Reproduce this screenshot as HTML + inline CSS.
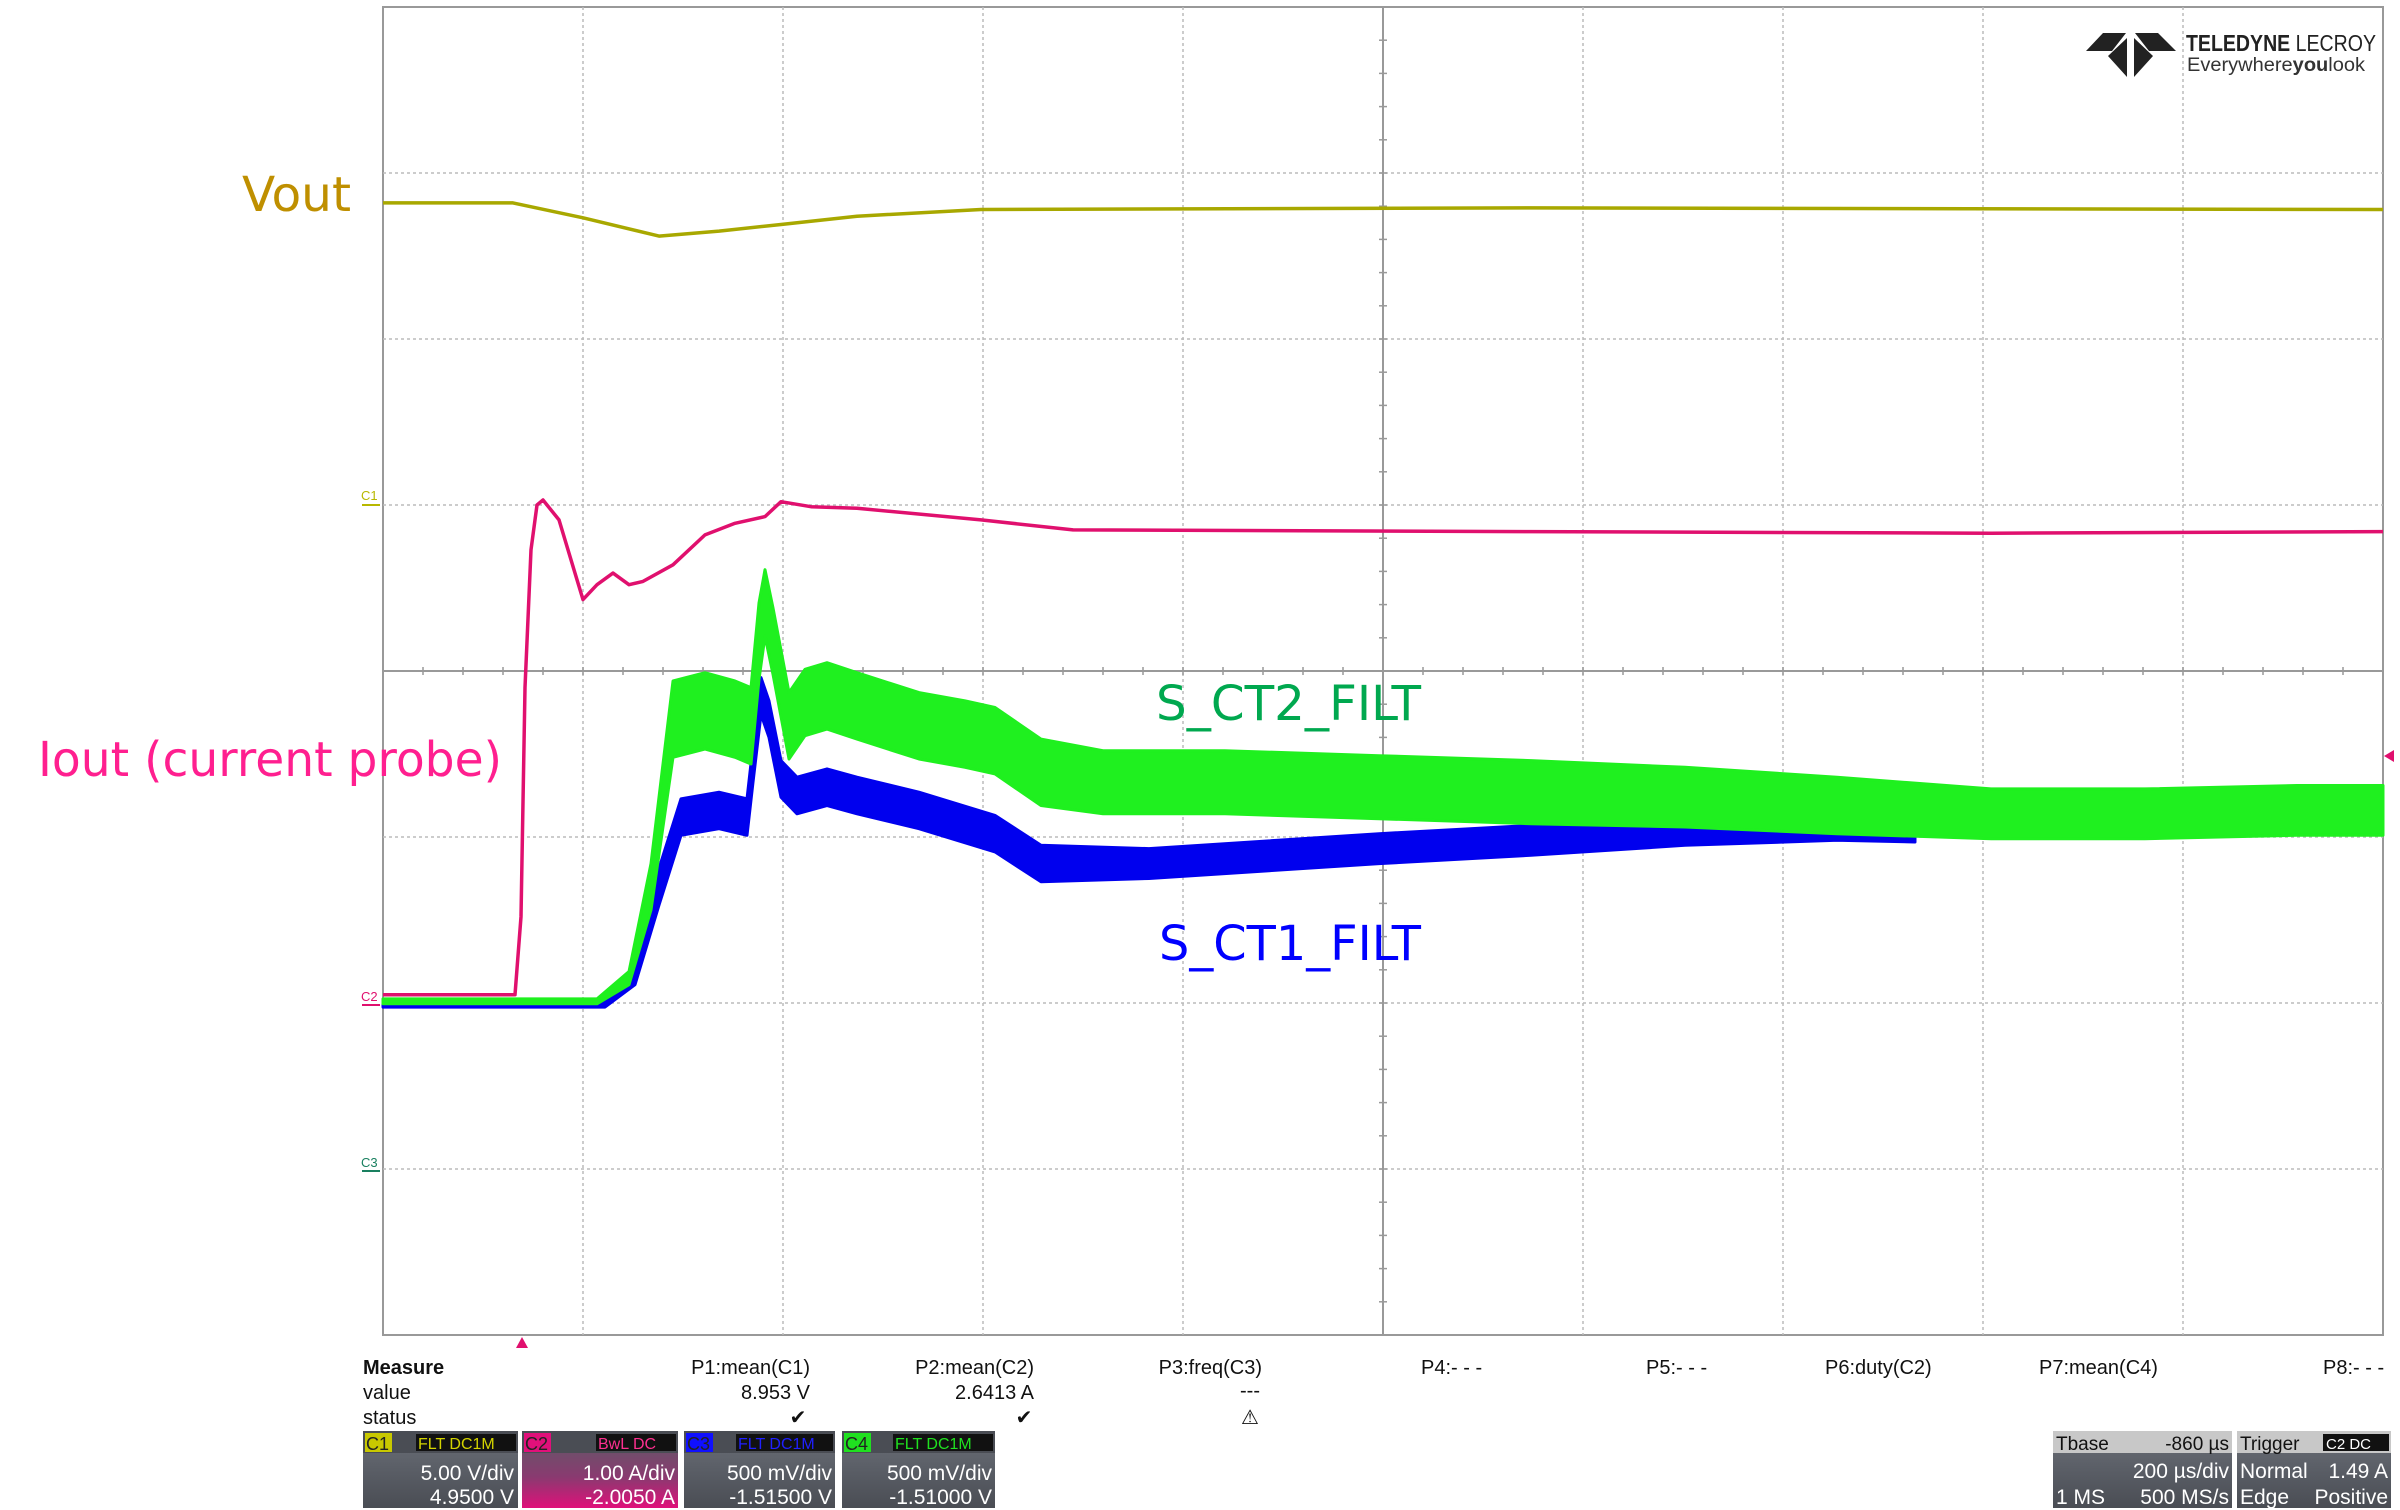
<!DOCTYPE html>
<html><head><meta charset="utf-8">
<style>
html,body{margin:0;padding:0;background:#fff;}
body{width:2400px;height:1510px;overflow:hidden;position:relative;font-family:"Liberation Sans",sans-serif;}
svg{position:absolute;left:0;top:0;}
.m{font-family:"Liberation Sans",sans-serif;font-size:20px;fill:#111;}
.bx{font-family:"Liberation Sans",sans-serif;font-size:21px;fill:#fff;}
</style></head>
<body>
<svg id="scope" width="2400" height="1510" viewBox="0 0 2400 1510">
  <g id="grid"></g>
  <g id="traces"></g>
  <!-- annotations -->
  <text x="242" y="211" font-family="DejaVu Sans,sans-serif" font-size="48" fill="#bf8f00" textLength="109" lengthAdjust="spacingAndGlyphs">Vout</text>
  <text x="38" y="776" font-family="DejaVu Sans,sans-serif" font-size="48" fill="#ff1f8f" textLength="464" lengthAdjust="spacingAndGlyphs">Iout (current probe)</text>
  <text x="1156" y="720" font-family="DejaVu Sans,sans-serif" font-size="48" fill="#00a84f" textLength="265" lengthAdjust="spacingAndGlyphs">S_CT2_FILT</text>
  <text x="1159" y="960" font-family="DejaVu Sans,sans-serif" font-size="48" fill="#0000ff" textLength="262" lengthAdjust="spacingAndGlyphs">S_CT1_FILT</text>
  <!-- channel markers -->
  <text x="361" y="500" font-size="13" fill="#b8b800">C1</text>
  <line x1="362" y1="505" x2="380" y2="505" stroke="#b8b800" stroke-width="2"/>
  <text x="361" y="1001" font-size="13" fill="#e0106e">C2</text>
  <line x1="362" y1="1005" x2="380" y2="1005" stroke="#e0106e" stroke-width="2"/>
  <text x="361" y="1167" font-size="13" fill="#1a8060">C3</text>
  <line x1="362" y1="1171" x2="380" y2="1171" stroke="#1a8060" stroke-width="2"/>
  <polygon points="522,1337 516,1348 528,1348" fill="#e0106e"/>
  <polygon points="2384,756 2394,750 2394,762" fill="#e0106e"/>
  <!-- logo -->
  <g>
    <polygon points="2086,51 2103,33 2126,33 2112,51" fill="#222"/>
    <polygon points="2135,33 2158,33 2176,51 2149,51" fill="#222"/>
    <polygon points="2108,56 2127,38 2127,77" fill="#222"/>
    <polygon points="2134,38 2153,56 2134,77" fill="#222"/>
    <text x="2186" y="51" font-size="23" font-weight="bold" fill="#222" textLength="190" lengthAdjust="spacingAndGlyphs">TELEDYNE <tspan font-weight="normal">LECROY</tspan></text>
    <text x="2187" y="71" font-size="19" fill="#333" textLength="178" lengthAdjust="spacingAndGlyphs">Everywhere<tspan font-weight="bold">you</tspan>look</text>
  </g>
  <!-- measure panel -->
  <g>
    <text class="m" x="363" y="1374" font-weight="bold">Measure</text>
    <text class="m" x="363" y="1399">value</text>
    <text class="m" x="363" y="1424">status</text>
    <text class="m" x="810" y="1374" text-anchor="end">P1:mean(C1)</text>
    <text class="m" x="1034" y="1374" text-anchor="end">P2:mean(C2)</text>
    <text class="m" x="1262" y="1374" text-anchor="end">P3:freq(C3)</text>
    <text class="m" x="1421" y="1374">P4:- - -</text>
    <text class="m" x="1646" y="1374">P5:- - -</text>
    <text class="m" x="1825" y="1374">P6:duty(C2)</text>
    <text class="m" x="2039" y="1374">P7:mean(C4)</text>
    <text class="m" x="2323" y="1374">P8:- - -</text>
    <text class="m" x="810" y="1399" text-anchor="end">8.953 V</text>
    <text class="m" x="1034" y="1399" text-anchor="end">2.6413 A</text>
    <text class="m" x="1250" y="1397" text-anchor="middle">---</text>
    <text class="m" x="798" y="1424" text-anchor="middle">✔</text>
    <text class="m" x="1024" y="1424" text-anchor="middle">✔</text>
    <text class="m" x="1250" y="1424" text-anchor="middle" font-size="16">⚠</text>
  </g>
  <defs>
    <linearGradient id="gb" x1="0" y1="0" x2="0" y2="1"><stop offset="0" stop-color="#6c7078"/><stop offset="0.5" stop-color="#5a5e66"/><stop offset="1" stop-color="#4a4d54"/></linearGradient>
    <linearGradient id="gm" x1="0" y1="0" x2="0" y2="1"><stop offset="0" stop-color="#5a5e66"/><stop offset="0.6" stop-color="#8a3a70"/><stop offset="1" stop-color="#e0107a"/></linearGradient>
  </defs>
  <g id="boxes">
    <g>
      <rect x="363" y="1431" width="155" height="77" fill="url(#gb)"/><rect x="363" y="1431" width="155" height="22" fill="#4a4d54"/>
      <rect x="365" y="1433" width="27" height="19" fill="#c8c800"/><text x="366" y="1450" font-size="18" fill="#222">C1</text>
      <rect x="416" y="1434" width="100" height="17" fill="#111"/><text x="418" y="1449" font-size="16" fill="#d4d400">FLT DC1M</text>
      <text class="bx" x="514" y="1480" text-anchor="end">5.00 V/div</text><text class="bx" x="514" y="1504" text-anchor="end">4.9500 V</text>
    </g>
    <g>
      <rect x="522" y="1431" width="156" height="77" fill="url(#gm)"/><rect x="522" y="1431" width="156" height="22" fill="#4a4d54"/>
      <rect x="524" y="1433" width="27" height="19" fill="#e0107a"/><text x="525" y="1450" font-size="18" fill="#222">C2</text>
      <rect x="596" y="1434" width="80" height="17" fill="#111"/><text x="598" y="1449" font-size="16" fill="#ff3090">BwL DC</text>
      <text class="bx" x="675" y="1480" text-anchor="end">1.00 A/div</text><text class="bx" x="675" y="1504" text-anchor="end">-2.0050 A</text>
    </g>
    <g>
      <rect x="684" y="1431" width="151" height="77" fill="url(#gb)"/><rect x="684" y="1431" width="151" height="22" fill="#4a4d54"/>
      <rect x="686" y="1433" width="27" height="19" fill="#1010ff"/><text x="687" y="1450" font-size="18" fill="#222">C3</text>
      <rect x="736" y="1434" width="97" height="17" fill="#111"/><text x="738" y="1449" font-size="16" fill="#2020ff">FLT DC1M</text>
      <text class="bx" x="832" y="1480" text-anchor="end">500 mV/div</text><text class="bx" x="832" y="1504" text-anchor="end">-1.51500 V</text>
    </g>
    <g>
      <rect x="842" y="1431" width="153" height="77" fill="url(#gb)"/><rect x="842" y="1431" width="153" height="22" fill="#4a4d54"/>
      <rect x="844" y="1433" width="27" height="19" fill="#20e020"/><text x="845" y="1450" font-size="18" fill="#222">C4</text>
      <rect x="893" y="1434" width="100" height="17" fill="#111"/><text x="895" y="1449" font-size="16" fill="#20e020">FLT DC1M</text>
      <text class="bx" x="992" y="1480" text-anchor="end">500 mV/div</text><text class="bx" x="992" y="1504" text-anchor="end">-1.51000 V</text>
    </g>
    <g>
      <rect x="2053" y="1431" width="179" height="77" fill="url(#gb)"/><rect x="2053" y="1431" width="179" height="22" fill="#c8c8c8"/>
      <text x="2056" y="1450" font-size="19" fill="#111">Tbase</text><text x="2229" y="1450" font-size="19" fill="#111" text-anchor="end">-860 µs</text>
      <text class="bx" x="2229" y="1478" text-anchor="end">200 µs/div</text>
      <text class="bx" x="2056" y="1504">1 MS</text><text class="bx" x="2229" y="1504" text-anchor="end">500 MS/s</text>
    </g>
    <g>
      <rect x="2237" y="1431" width="154" height="77" fill="url(#gb)"/><rect x="2237" y="1431" width="154" height="22" fill="#c8c8c8"/>
      <text x="2240" y="1450" font-size="19" fill="#111">Trigger</text>
      <rect x="2323" y="1434" width="66" height="17" fill="#111"/><text x="2326" y="1449" font-size="15" fill="#fff">C2 DC</text>
      <text class="bx" x="2240" y="1478">Normal</text><text class="bx" x="2388" y="1478" text-anchor="end">1.49 A</text>
      <text class="bx" x="2240" y="1504">Edge</text><text class="bx" x="2388" y="1504" text-anchor="end">Positive</text>
    </g>
  </g>
</svg>
<script>
// Plot geometry: 10 horizontal divs, 8 vertical divs
const X0 = 383, Y0 = 7, DX = 200, DY = 166;
function sx(d){ return X0 + d*DX; }
function sy(d){ return Y0 + d*DY; }

// Vout (C1): time in divisions, level in divisions from top
const voutT = [0,0.65,1.0,1.38,1.68,1.99,2.37,2.99,5.74,10];
const voutY = [1.18,1.18,1.27,1.38,1.35,1.31,1.26,1.22,1.21,1.22];
// Iout (C2)
const ioutT = [0,0.66,0.69,0.71,0.74,0.77,0.80,0.88,0.96,1.0,1.07,1.15,1.23,1.30,1.45,1.61,1.76,1.91,1.99,2.14,2.37,2.99,3.45,5.74,8.04,10];
const ioutY = [5.95,5.95,5.48,4.10,3.27,3.00,2.97,3.09,3.41,3.57,3.48,3.41,3.48,3.46,3.36,3.18,3.11,3.07,2.98,3.01,3.02,3.09,3.15,3.16,3.17,3.16];
// S_CT2_FILT (C4) envelope: center and half-width
const ct2T = [0,1.07,1.23,1.34,1.45,1.61,1.76,1.84,1.88,1.91,1.95,2.03,2.11,2.22,2.37,2.68,2.91,3.06,3.29,3.60,4.21,4.98,5.74,6.51,7.27,8.04,8.81,9.57,10];
const ct2Mid = [5.99,5.99,5.85,5.30,4.29,4.24,4.29,4.33,3.82,3.59,3.82,4.33,4.19,4.15,4.21,4.33,4.38,4.42,4.61,4.67,4.67,4.70,4.73,4.76,4.81,4.86,4.86,4.84,4.84];
const ct2Half = [0.015,0.015,0.04,0.14,0.23,0.23,0.23,0.23,0.23,0.2,0.2,0.2,0.2,0.2,0.2,0.2,0.2,0.2,0.2,0.19,0.19,0.19,0.19,0.18,0.17,0.15,0.15,0.15,0.15];
// S_CT1_FILT (C3) envelope
const ct1T = [0,1.11,1.26,1.38,1.49,1.68,1.82,1.85,1.89,1.93,1.99,2.07,2.22,2.37,2.68,3.06,3.29,3.83,4.98,5.74,6.51,7.27,7.66];
const ct1Mid = [6.01,6.01,5.85,5.30,4.88,4.84,4.88,4.56,4.15,4.29,4.65,4.75,4.70,4.75,4.84,4.98,5.16,5.16,5.07,5.02,4.98,4.96,4.98];
const ct1Half = [0.015,0.015,0.04,0.11,0.11,0.11,0.11,0.11,0.11,0.11,0.11,0.11,0.11,0.11,0.11,0.11,0.11,0.09,0.09,0.09,0.07,0.06,0.05];

const NS = 'http://www.w3.org/2000/svg';
const grid = document.getElementById('grid');
const traces = document.getElementById('traces');
function mk(tag, attrs, parent){
  const e = document.createElementNS(NS, tag);
  for (const k in attrs) e.setAttribute(k, attrs[k]);
  parent.appendChild(e);
  return e;
}
// frame
let fr = mk('rect', {x:X0, y:Y0, width:10*DX, height:8*DY, fill:'none', stroke:'#999', 'stroke-width':2}, grid);


for (let i=1;i<10;i++){
  const l = mk('line', {x1:sx(i), y1:Y0, x2:sx(i), y2:sy(8), stroke:i===5?'#999':'#bbb', 'stroke-width':i===5?2:1.5, 'stroke-dasharray':i===5?'':'3 3'}, grid);
  
  
}
for (let j=1;j<8;j++){
  const l = mk('line', {x1:X0, y1:sy(j), x2:sx(10), y2:sy(j), stroke:j===4?'#999':'#bbb', 'stroke-width':j===4?2:1.5, 'stroke-dasharray':j===4?'':'3 3'}, grid);
  
  
}
// center axis ticks
for (let k=1;k<50;k++){
  const t = mk('line', {x1:sx(k*0.2), y1:sy(4)-4, x2:sx(k*0.2), y2:sy(4)+4, stroke:'#999', 'stroke-width':1.5}, grid);
  
  
}
for (let k=1;k<40;k++){
  const t = mk('line', {x1:sx(5)-4, y1:sy(k*0.2), x2:sx(5)+4, y2:sy(k*0.2), stroke:'#999', 'stroke-width':1.5}, grid);
  
  
}
function linePath(T, Y){
  return T.map((t,i)=>(i?'L':'M')+sx(t).toFixed(1)+','+sy(Y[i]).toFixed(1)).join(' ');
}
function bandPath(T, M, H){
  let d = T.map((t,i)=>(i?'L':'M')+sx(t).toFixed(1)+','+sy(M[i]-H[i]).toFixed(1)).join(' ');
  for (let i=T.length-1;i>=0;i--) d += ' L'+sx(T[i]).toFixed(1)+','+sy(M[i]+H[i]).toFixed(1);
  return d+' Z';
}
const b1 = mk('path', {d:bandPath(ct1T, ct1Mid, ct1Half), fill:'#0000ee', stroke:'#0000ee', 'stroke-width':3, 'stroke-linejoin':'round'}, traces);


const b2 = mk('path', {d:bandPath(ct2T, ct2Mid, ct2Half), fill:'#1ff01f', stroke:'#1ff01f', 'stroke-width':3, 'stroke-linejoin':'round'}, traces);


const l2 = mk('path', {d:linePath(ioutT, ioutY), fill:'none', stroke:'#e0106e', 'stroke-width':3.5, 'stroke-linejoin':'round'}, traces);


const l1 = mk('path', {d:linePath(voutT, voutY), fill:'none', stroke:'#a8a800', 'stroke-width':3.5, 'stroke-linejoin':'round'}, traces);


</script>
</body></html>
